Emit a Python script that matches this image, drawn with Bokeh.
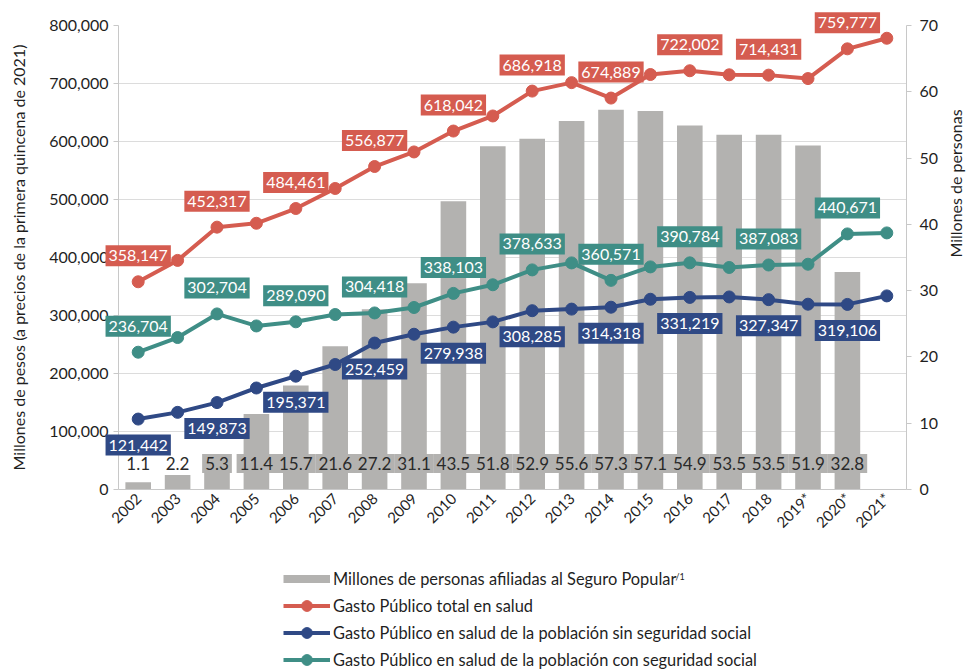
from math import pi
from bokeh.plotting import figure
from bokeh.layouts import column
from bokeh.models import (ColumnDataSource, FactorRange, Range1d, LinearAxis, FixedTicker,
                          NumeralTickFormatter, Legend, LegendItem, Label)
from bokeh.core.properties import value
from bokeh.embed import file_html
from bokeh.resources import INLINE

# ---------------- data ----------------
years = ["2002", "2003", "2004", "2005", "2006", "2007", "2008", "2009", "2010", "2011",
         "2012", "2013", "2014", "2015", "2016", "2017", "2018", "2019*", "2020*", "2021*"]

# Millones de personas afiliadas al Seguro Popular (2002-2020)
affiliates = [1.1, 2.2, 5.3, 11.4, 15.7, 21.6, 27.2, 31.1, 43.5, 51.8,
              52.9, 55.6, 57.3, 57.1, 54.9, 53.5, 53.5, 51.9, 32.8]

# Gasto Público total en salud
total = [358147, 395000, 452317, 459000, 484461, 519000, 556877, 582000, 618042, 644000,
         686918, 701500, 674889, 715500, 722002, 715000, 714431, 708500, 759777, 778000]

# Gasto Público en salud de la población sin seguridad social
sin_ss = [121442, 133000, 149873, 175000, 195371, 215500, 252459, 267700, 279938, 289000,
          308285, 311000, 314318, 328000, 331219, 332000, 327347, 319500, 319106, 333800]

# Gasto Público en salud de la población con seguridad social
con_ss = [236704, 262000, 302704, 282000, 289090, 301700, 304418, 313800, 338103, 353000,
          378633, 390700, 360571, 383800, 390784, 382800, 387083, 388400, 440671, 442400]

labeled = list(range(0, 19, 2))   # years with a data label

left_ticks = [0, 100000, 200000, 300000, 400000, 500000, 600000, 700000, 800000]
right_ticks = [0, 10, 20, 30, 40, 50, 60, 70]

legend_labels = ["Millones de personas afiliadas al Seguro Popular",
                 "Gasto Público total en salud",
                 "Gasto Público en salud de la población sin seguridad social",
                 "Gasto Público en salud de la población con seguridad social"]
footnote_mark = "/1"

# ---------------- style ----------------
FONT = "Lato"
RED = "#d55c50"
NAVY = "#2f4985"
TEAL = "#3f8e86"
GRAY = "#b3b2b0"
AXIS = "#c8c8c8"
TXT = "#1f1f1f"

p = figure(x_range=FactorRange(factors=years, range_padding=0),
           y_range=Range1d(0, 800000),
           width=977, height=545,
           output_backend="svg", toolbar_location=None,
           min_border_left=118, min_border_right=64,
           min_border_top=25, min_border_bottom=56)
p.extra_y_ranges = {"people": Range1d(0, 70)}
p.outline_line_color = None
p.background_fill_color = "white"

# bars
bars = p.vbar(x=years[:len(affiliates)], top=affiliates, width=0.65,
              y_range_name="people", fill_color=GRAY, line_color=None)

# bar value labels
bar_src = ColumnDataSource(dict(
    x=years[:len(affiliates)],
    y=[0] * len(affiliates),
    t=[f"{v:.1f}" for v in affiliates],
    bg=[GRAY if v > 4 else "white" for v in affiliates],
))
p.text(x="x", y="y", text="t", source=bar_src, y_range_name="people",
       text_font=value(FONT), text_font_size="17px", text_color="#2a2a2a",
       text_align="center", text_baseline="middle", y_offset=-26,
       background_fill_color="bg", padding=3)

# lines
series = [(total, RED, -26), (sin_ss, NAVY, 26), (con_ss, TEAL, -26)]
line_renderers = []
for vals, col, off in series:
    ln = p.line(x=years, y=vals, line_color=col, line_width=4)
    sc = p.scatter(x=years, y=vals, size=12, fill_color=col, line_color=col)
    line_renderers.append((ln, sc))

for vals, col, off in series:
    src = ColumnDataSource(dict(
        x=[years[i] for i in labeled],
        y=[vals[i] for i in labeled],
        t=[f"{vals[i]:,}" for i in labeled],
    ))
    r = p.text(x="x", y="y", text="t", source=src,
               text_font=value(FONT), text_font_size="16px", text_color="white",
               text_align="center", text_baseline="middle", y_offset=off,
               background_fill_color=col, padding=(3, 5))
    r.level = "annotation"

# axes
yl = p.left[0]
yl.ticker = FixedTicker(ticks=left_ticks)
yl.formatter = NumeralTickFormatter(format="0,0")
yl.axis_label = "Millones de pesos (a precios de la primera quincena de 2021)"

yr = LinearAxis(y_range_name="people", ticker=FixedTicker(ticks=right_ticks),
                axis_label="Millones de personas")
p.add_layout(yr, "right")

for ax in (yl, yr):
    ax.axis_line_color = AXIS
    ax.major_tick_line_color = AXIS
    ax.major_tick_out = 5
    ax.major_tick_in = 0
    ax.minor_tick_line_color = None
    ax.major_label_text_font = FONT
    ax.major_label_text_font_size = "16px"
    ax.major_label_text_color = TXT
    ax.axis_label_text_font = FONT
    ax.axis_label_text_font_size = "16px"
    ax.axis_label_text_font_style = "normal"
    ax.axis_label_text_color = TXT
yl.major_label_standoff = 5
yl.axis_label_standoff = 18
yr.major_label_standoff = 8
yr.axis_label_standoff = 14
yr.axis_label_orientation = pi / 2

xa = p.below[0]
xa.axis_line_color = AXIS
xa.major_tick_line_color = None
xa.major_tick_out = 0
xa.major_tick_in = 0
xa.major_label_orientation = pi / 4
xa.major_label_text_font = FONT
xa.major_label_text_font_size = "15px"
xa.major_label_text_color = TXT
xa.major_label_standoff = 6

p.xgrid.grid_line_color = None
p.ygrid.grid_line_color = "#dcdcdc"
p.ygrid.grid_line_width = 1

# ---------------- legend strip ----------------
lg = figure(width=977, height=126, x_range=Range1d(0, 1), y_range=Range1d(0, 1),
            output_backend="svg", toolbar_location=None,
            x_axis_location=None, y_axis_location=None, min_border=0)
lg.outline_line_color = None
lg.grid.visible = False

nan = float("nan")
proxy_bar = lg.line(x=[nan], y=[nan], line_color=GRAY, line_width=8)
items = [LegendItem(label=legend_labels[0], renderers=[proxy_bar])]
for lab, col in zip(legend_labels[1:], [RED, NAVY, TEAL]):
    pl = lg.line(x=[nan], y=[nan], line_color=col, line_width=4)
    ps = lg.scatter(x=[nan], y=[nan], fill_color=col, line_color=col)
    items.append(LegendItem(label=lab, renderers=[pl, ps]))

# the column aligns this strip's frame with the chart's frame (left edge at 118 px)
legend = Legend(items=items, location=(165, -2), orientation="vertical",
                glyph_width=47, glyph_height=27, label_height=27, spacing=0,
                padding=0, margin=0, label_standoff=3,
                label_text_font=FONT, label_text_font_size="16.4px",
                label_text_color=TXT, border_line_color=None,
                background_fill_alpha=0)
lg.add_layout(legend)

sup = Label(x=557, y=95, x_units="screen", y_units="screen", text=footnote_mark,
            text_font=FONT, text_font_size="9px", text_color=TXT,
            text_baseline="middle")
lg.add_layout(sup)

page = column(p, lg, spacing=0)
open("out.html", "w").write(file_html(page, INLINE))
